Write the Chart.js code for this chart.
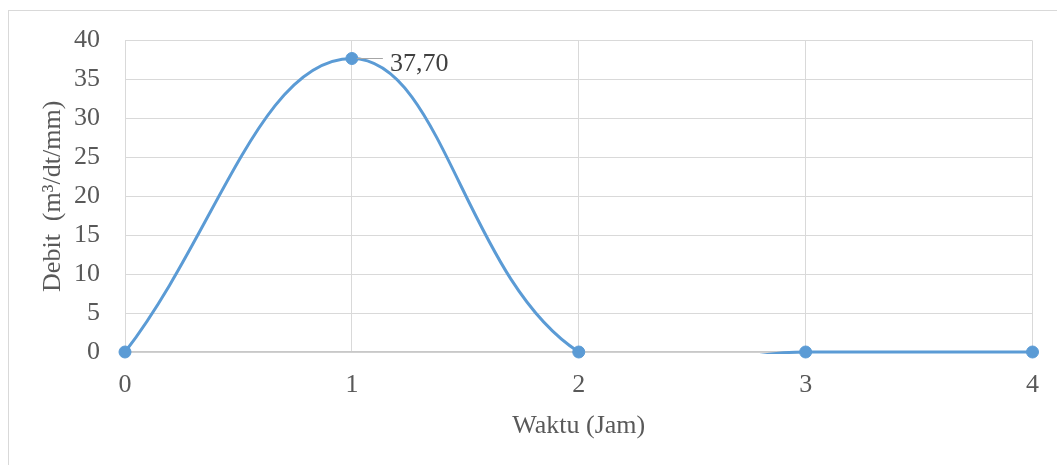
<!DOCTYPE html>
<html>
<head>
<meta charset="utf-8">
<script src="https://cdn.jsdelivr.net/npm/chart.js@4.4.0/dist/chart.umd.min.js"></script>
<style>
  body { margin: 0; background: #fff; }
  #wrap { position: relative; width: 1057px; height: 465px; overflow: hidden; }
  #frame { position: absolute; left: 8px; top: 10px; width: 1100px; height: 500px; border: 1.5px solid #d9d9d9; }
  #chart { position: absolute; left: 0; top: 0; }
</style>
</head>
<body>
<div id="wrap">
  <div id="frame"></div>
  <canvas id="chart" width="1057" height="465"></canvas>
</div>
<script>
const waktu = [0, 1, 2, 3, 4];
const debit = [0, 37.70, 0, 0, 0];
const labelIndex = 1;

const serif = '"Liberation Serif", "Times New Roman", serif';
const points = waktu.map((x, i) => ({ x: x, y: debit[i] }));

const peakLabel = {
  id: 'peakLabel',
  afterDatasetsDraw(chart) {
    const meta = chart.getDatasetMeta(0);
    const pt = meta.data[labelIndex];
    const ctx = chart.ctx;
    ctx.save();
    ctx.strokeStyle = '#a6a6a6';
    ctx.lineWidth = 1;
    ctx.beginPath();
    ctx.moveTo(pt.x + 5, pt.y);
    ctx.lineTo(pt.x + 31, pt.y);
    ctx.stroke();
    ctx.fillStyle = '#404040';
    ctx.font = '26px ' + serif;
    ctx.textBaseline = 'middle';
    ctx.fillText(debit[labelIndex].toFixed(2).replace('.', ','), pt.x + 38, pt.y + 6);
    ctx.restore();
  }
};

new Chart(document.getElementById('chart'), {
  type: 'scatter',
  data: {
    datasets: [
      {
        data: points,
        showLine: false,
        pointRadius: 6,
        pointBackgroundColor: '#5b9bd5',
        pointBorderColor: '#5b9bd5',
        clip: false
      },
      {
        data: points,
        showLine: true,
        borderColor: '#5b9bd5',
        borderWidth: 3,
        tension: 0.4,
        capBezierPoints: false,
        pointRadius: 0,
        clip: { left: 5, top: 5, right: 5, bottom: 2 }
      }
    ]
  },
  options: {
    responsive: false,
    animation: false,
    layout: { padding: { top: 40, right: 23, left: 0, bottom: 0 } },
    plugins: { legend: { display: false }, tooltip: { enabled: false } },
    scales: {
      x: {
        type: 'linear', min: 0, max: 4,
        afterFit: s => { s.height = 113; },
        ticks: { stepSize: 1, padding: 18, color: '#595959', font: { family: serif, size: 26 } },
        grid: { color: '#d9d9d9', drawTicks: false },
        border: { color: '#c8c8c8', width: 1.5 },
        title: { display: true, text: 'Waktu (Jam)', color: '#595959', font: { family: serif, size: 26 }, padding: { bottom: 23 } }
      },
      y: {
        min: 0, max: 40,
        afterFit: s => { s.width = 125; },
        ticks: { stepSize: 5, padding: 25, color: '#595959', font: { family: serif, size: 26 } },
        grid: { color: '#d9d9d9', drawTicks: false },
        border: { color: '#d9d9d9' },
        title: { display: true, text: 'Debit  (m³/dt/mm)', color: '#595959', font: { family: serif, size: 26 }, padding: { top: 38 } }
      }
    }
  },
  plugins: [peakLabel]
});
</script>
</body>
</html>
